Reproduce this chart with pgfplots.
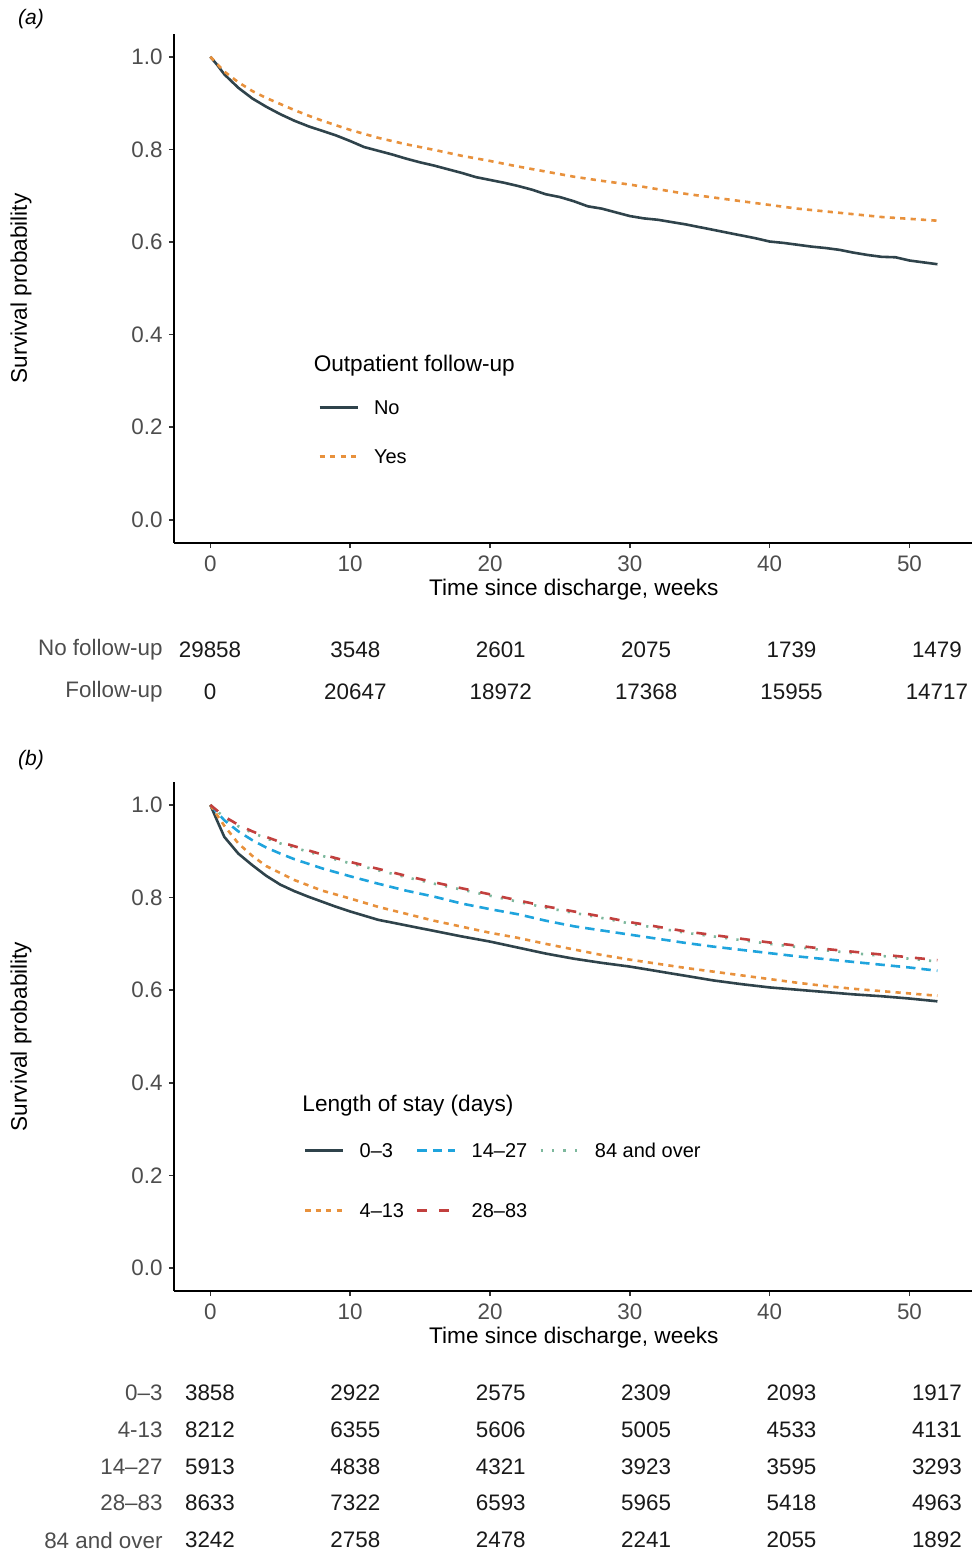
\documentclass[border=0pt]{standalone}
\usepackage{pgfplots}
\pgfplotsset{compat=1.18}
\usepackage{pgfplotstable}
\usepackage{fontspec}
\setmainfont{Liberation Sans}
\definecolor{cdark}{HTML}{2F434B}
\definecolor{corange}{HTML}{E8913C}
\definecolor{cblue}{HTML}{1FA4DD}
\definecolor{cred}{HTML}{C2403E}
\definecolor{cgreen}{HTML}{7DB89D}
\definecolor{tickgrey}{HTML}{4D4D4D}

\pgfplotstableread{
x y n
0 1 29858
10 1 3548
20 1 2601
30 1 2075
40 1 1739
50 1 1479
0 0 0
10 0 20647
20 0 18972
30 0 17368
40 0 15955
50 0 14717
}\riskA

\pgfplotstableread{
x y n
0 4 3858
10 4 2922
20 4 2575
30 4 2309
40 4 2093
50 4 1917
0 3 8212
10 3 6355
20 3 5606
30 3 5005
40 3 4533
50 3 4131
0 2 5913
10 2 4838
20 2 4321
30 2 3923
40 2 3595
50 2 3293
0 1 8633
10 1 7322
20 1 6593
30 1 5965
40 1 5418
50 1 4963
0 0 3242
10 0 2758
20 0 2478
30 0 2241
40 0 2055
50 0 1892
}\riskB

\pgfplotsset{
  km/.style={
    scale only axis, width=399.9pt, height=254.7pt,
    xmin=-2.6, xmax=54.6, ymin=-0.05, ymax=1.05,
    axis x line*=bottom, axis y line*=left,
    axis line style={line width=0.8pt, black},
    xtick={0,10,20,30,40,50}, xticklabels={0,10,20,30,40,50},
    ytick={0,0.2,0.4,0.6,0.8,1}, yticklabels={0.0,0.2,0.4,0.6,0.8,1.0},
    tick align=outside, major tick length=2.5pt,
    tick style={line width=0.8pt, black!80},
    ticklabel style={font=\fontsize{11.2}{13}\selectfont, text=tickgrey, inner sep=0pt},
    xticklabel style={yshift=-3.5pt},
    yticklabel style={xshift=-3pt},
    xlabel={Time since discharge, weeks},
    ylabel={Survival probability},
    xlabel style={at={(rel axis cs:0.5,0)}, anchor=base, yshift=-26pt, font=\fontsize{11.3}{13}\selectfont, text=black},
    ylabel style={at={([xshift=-76.5pt]rel axis cs:0,0.5)}, anchor=center, font=\fontsize{11.3}{13}\selectfont, text=black},
    legend cell align=left,
    legend image code/.code={\draw[#1] (0pt,0pt) -- (19pt,0pt);},
    clip=false,
    every axis plot/.append style={line width=1.3pt, line join=round},
  },
  risk/.style={
    scale only axis, width=396pt,
    xmin=-2.476, xmax=52,
    axis line style={draw=none}, xtick=\empty,
    major tick length=0pt,
    yticklabel style={font=\fontsize{11.2}{13}\selectfont, text=tickgrey, inner sep=0pt, xshift=-5.5pt},
    clip=false,
  },
  risknums/.style={only marks, mark=*, mark size=0pt, mark options={draw=none, fill=none},
    nodes near coords, point meta=explicit symbolic, nodes near coords align={center},
    every node near coord/.append style={font=\fontsize{11.2}{13}\selectfont, inner sep=0pt, text=black!90}},
}

\begin{document}
\begin{tikzpicture}
\useasboundingbox (0pt,-776.5pt) rectangle (486pt,0pt);

\node[font=\fontsize{10.5}{12}\selectfont\itshape, anchor=center] at (15.5pt,-9.5pt) {(a)};
\node[font=\fontsize{10.5}{12}\selectfont\itshape, anchor=center] at (15.5pt,-380pt) {(b)};

% ---------------- Panel (a)
\begin{axis}[km, at={(87pt,-271.5pt)}, anchor=south west,
  legend style={at={(axis cs:7.73,0.2583)}, anchor=north west, draw=none, fill=none,
    inner sep=0pt, outer sep=0pt, row sep=17.5pt, font=\fontsize{10}{11}\selectfont,
    nodes={inner sep=0pt, text height=7.1pt, text depth=0pt},
    /tikz/every odd column/.append style={column sep=7.5pt}},
]
\addplot[cdark, solid] coordinates {
(0,1.000) (0.5,0.982) (1,0.962) (2,0.933) (3,0.910) (4,0.892) (5,0.876) (6,0.862)
(7,0.850) (8,0.840) (9,0.830) (10,0.818) (11,0.805) (12,0.797) (13,0.789) (14,0.780)
(15,0.772) (16,0.765) (17,0.757) (18,0.749) (19,0.740) (20,0.734) (21,0.728) (22,0.721)
(23,0.713) (24,0.703) (25,0.697) (26,0.688) (27,0.677) (28,0.672) (29,0.664) (30,0.656)
(31,0.651) (32,0.648) (33,0.643) (34,0.638) (35,0.632) (36,0.626) (37,0.620) (38,0.614)
(39,0.608) (40,0.601) (41,0.598) (42,0.594) (43,0.590) (44,0.587) (45,0.583) (46,0.577)
(47,0.572) (48,0.568) (49,0.567) (50,0.560) (51,0.556) (52,0.552)};
\addlegendentry{No}
\addplot[corange, dash pattern=on 2.6pt off 2.6pt] coordinates {
(0,1.000) (1,0.968) (2,0.945) (3,0.926) (4,0.911) (5,0.898) (6,0.885) (7,0.873)
(8,0.862) (9,0.852) (10,0.842) (12,0.825) (14,0.811) (16,0.799) (18,0.786) (20,0.775)
(22,0.763) (24,0.752) (26,0.741) (28,0.732) (30,0.724) (32,0.714) (34,0.704) (36,0.696)
(38,0.688) (40,0.680) (42,0.672) (44,0.666) (46,0.660) (48,0.654) (50,0.650) (52,0.646)};
\addlegendentry{Yes}
\node[anchor=base west, inner sep=0pt, font=\fontsize{11.3}{13}\selectfont] at (axis cs:7.37,0.320) {Outpatient follow-up};
\end{axis}

% risk table (a)
\begin{axis}[risk, height=21pt, at={(87pt,-346pt)}, anchor=south west,
  ymin=0, ymax=1, ytick={0,1}, yticklabels={Follow-up,No follow-up}]
\addplot[risknums] table[x=x, y=y, meta=n] {\riskA};
\end{axis}

% ---------------- Panel (b)
\begin{axis}[km, at={(87pt,-645.6pt)}, anchor=south west,
  legend columns=3,
  legend style={at={(axis cs:6.70,0.2698)}, anchor=north west, draw=none, fill=none,
    inner sep=0pt, outer sep=0pt, row sep=22.9pt, font=\fontsize{10}{11}\selectfont,
    nodes={inner sep=0pt, text height=7.1pt, text depth=0pt},
    /tikz/every odd column/.append style={column sep=7.5pt},
    /tikz/every even column/.append style={column sep=6pt},
    /tikz/column 4/.append style={column sep=3.8pt}},
]
% 0-3
\addplot[cdark, solid] coordinates {
(0,1.000) (0.5,0.965) (1,0.931) (2,0.895) (3,0.870) (4,0.847) (5,0.828) (6,0.814)
(7,0.802) (8,0.791) (9,0.780) (10,0.770) (12,0.752) (14,0.740) (16,0.728) (18,0.716)
(20,0.705) (22,0.692) (24,0.679) (26,0.668) (28,0.659) (30,0.651) (32,0.641) (34,0.631)
(36,0.621) (38,0.613) (40,0.606) (42,0.601) (44,0.596) (46,0.591) (48,0.587) (50,0.582) (52,0.576)};
\addlegendentry{0--3}
% 14-27
\addplot[cblue, dash pattern=on 4.7pt off 3pt] coordinates {
(0,1.000) (1,0.967) (2,0.943) (3,0.924) (4,0.908) (5,0.895) (6,0.883) (8,0.863)
(10,0.846) (12,0.830) (14,0.815) (16,0.802) (18,0.787) (20,0.775) (22,0.764) (24,0.750)
(26,0.738) (28,0.729) (30,0.720) (32,0.711) (34,0.702) (36,0.694) (38,0.687) (40,0.680)
(42,0.673) (44,0.667) (46,0.661) (48,0.655) (50,0.649) (52,0.642)};
\addlegendentry{14--27}
% 84 and over
\addplot[cgreen, dash pattern=on 1.1pt off 4.6pt] coordinates {
(0,1.000) (1,0.973) (2,0.954) (3,0.940) (4,0.928) (5,0.917) (6,0.908) (8,0.890)
(10,0.874) (12,0.859) (14,0.844) (16,0.830) (18,0.817) (20,0.804) (22,0.791) (24,0.778)
(26,0.767) (28,0.756) (30,0.744) (32,0.734) (34,0.724) (36,0.716) (38,0.708) (40,0.700)
(42,0.693) (44,0.686) (46,0.680) (48,0.674) (50,0.668) (52,0.662)};
\addlegendentry{84 and over}
% 4-13
\addplot[corange, dash pattern=on 2.6pt off 2.6pt] coordinates {
(0,1.000) (1,0.955) (2,0.917) (3,0.890) (4,0.868) (5,0.853) (6,0.838) (8,0.815)
(10,0.798) (12,0.780) (14,0.765) (16,0.750) (18,0.737) (20,0.724) (22,0.713) (24,0.700)
(26,0.688) (28,0.676) (30,0.666) (32,0.657) (34,0.648) (36,0.640) (38,0.632) (40,0.624)
(42,0.616) (44,0.609) (46,0.603) (48,0.598) (50,0.593) (52,0.588)};
\addlegendentry{4--13}
% 28-83
\addplot[cred, dash pattern=on 5pt off 6pt] coordinates {
(0,1.000) (1,0.975) (2,0.957) (3,0.943) (4,0.931) (5,0.920) (6,0.911) (8,0.893)
(10,0.877) (12,0.862) (14,0.847) (16,0.833) (18,0.820) (20,0.807) (22,0.794) (24,0.781)
(26,0.770) (28,0.759) (30,0.747) (32,0.737) (34,0.727) (36,0.719) (38,0.711) (40,0.703)
(42,0.696) (44,0.689) (46,0.683) (48,0.677) (50,0.671) (52,0.665)};
\addlegendentry{28--83}
\node[anchor=base west, inner sep=0pt, font=\fontsize{11.3}{13}\selectfont] at (axis cs:6.56,0.3376) {Length of stay (days)};
\end{axis}

% risk table (b)
\begin{axis}[risk, height=73.5pt, at={(87pt,-770pt)}, anchor=south west,
  ymin=0, ymax=4, ytick={0,1,2,3,4}, yticklabels={84 and over,28--83,14--27,4-13,0--3}]
\addplot[risknums] table[x=x, y=y, meta=n] {\riskB};
\end{axis}
\end{tikzpicture}
\end{document}
